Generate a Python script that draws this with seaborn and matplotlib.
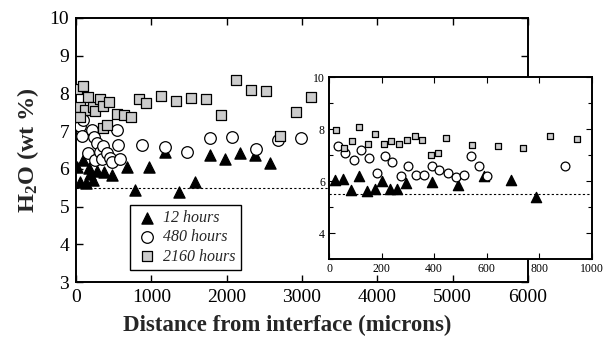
import pandas as pd
import seaborn as sns
import matplotlib.pyplot as plt
from matplotlib.ticker import MultipleLocator

# === DATA ===
# main plot: distance (microns), H2O (wt %)
tri_x = [9, 97, 53, 132, 172, 185, 230, 274, 371, 484, 678, 971, 781, 1179,
         1369, 1576, 1775, 1974, 2172, 2371, 2570]
tri_y = [6.06, 6.23, 5.66, 5.62, 6.01, 5.86, 5.70, 5.93, 5.92, 5.84, 6.06, 6.06,
         5.43, 6.45, 5.39, 5.66, 6.37, 6.25, 6.43, 6.37, 6.16]

circ_x = [9, 31, 53, 75, 97, 163, 208, 238, 274, 252, 318, 340, 362, 406, 450,
          473, 539, 553, 583, 876, 1179, 1479, 1784, 2075, 2393, 2680, 2989]
circ_y = [7.40, 7.16, 7.13, 6.88, 7.29, 6.41, 7.03, 6.84, 6.68, 6.24, 6.45, 6.25,
          6.60, 6.43, 6.28, 6.19, 7.04, 6.64, 6.27, 6.63, 6.58, 6.45, 6.81, 6.84,
          6.52, 6.76, 6.81]

sq_x = [9, 97, 163, 53, 119, 230, 252, 318, 353, 437, 53, 362, 406, 539, 636,
        728, 834, 936, 1135, 1334, 1532, 1722, 1929, 2128, 2327, 2526, 2715,
        2923, 3122]
sq_y = [8.11, 8.20, 7.90, 7.63, 7.56, 7.63, 7.53, 7.84, 7.67, 7.77, 7.38, 7.07,
        7.16, 7.46, 7.42, 7.37, 7.84, 7.74, 7.93, 7.81, 7.87, 7.86, 7.44, 8.36,
        8.09, 8.07, 6.87, 7.50, 7.90]

# inset: first 1000 microns
in_tri_x = [23, 53, 83, 113, 145, 174, 200, 231, 260, 292, 390, 490, 590, 692, 788]
in_tri_y = [6.04, 6.08, 5.65, 6.18, 5.60, 5.70, 6.00, 5.70, 5.70, 5.91, 5.95,
            5.83, 6.18, 6.03, 5.40]

in_circ_x = [32, 60, 93, 120, 152, 181, 213, 240, 273, 301, 331, 360, 392, 420,
             452, 482, 513, 539, 571, 600, 899]
in_circ_y = [7.35, 7.09, 6.81, 7.19, 6.90, 6.32, 6.96, 6.75, 6.18, 6.59, 6.22,
             6.22, 6.56, 6.42, 6.32, 6.14, 6.22, 6.96, 6.56, 6.21, 6.56]

in_sq_x = [28, 56, 87, 115, 148, 176, 208, 236, 267, 295, 327, 355, 387, 415,
           446, 544, 645, 740, 842, 944]
in_sq_y = [7.96, 7.28, 7.53, 8.07, 7.43, 7.82, 7.43, 7.53, 7.43, 7.58, 7.73,
           7.58, 7.00, 7.09, 7.67, 7.38, 7.33, 7.28, 7.73, 7.63]

labels = ["12 hours", "480 hours", "2160 hours"]
baseline = 5.5

sns.set_style("ticks")
plt.rcParams["font.family"] = ["Liberation Serif", "DejaVu Serif"]
plt.rcParams["mathtext.fontset"] = "custom"
plt.rcParams["mathtext.rm"] = "Liberation Serif"
plt.rcParams["mathtext.bf"] = "Liberation Serif:bold"


def draw_series(ax, x, y, kind, size, label=None):
    df = pd.DataFrame({"x": x, "y": y})
    if kind == "tri":
        kw = dict(marker="^", color="black", edgecolor="black")
    elif kind == "circ":
        kw = dict(marker="o", color="white", edgecolor="black")
    else:
        kw = dict(marker="s", color="#cccccc", edgecolor="black")
    sns.scatterplot(data=df, x="x", y="y", ax=ax, s=size, linewidth=0.9,
                    label=label, legend=False, zorder=3, **kw)


def style_axes(ax):
    for sp in ax.spines.values():
        sp.set_visible(True)
        sp.set_linewidth(1.4)
        sp.set_color("black")
    ax.tick_params(which="both", direction="in", top=True, right=True, colors="black")


fig = plt.figure(figsize=(6.05, 3.44), dpi=100)

# === MAIN AXES ===
ax = fig.add_axes([0.1256, 0.180, 0.747, 0.768])
draw_series(ax, tri_x, tri_y, "tri", 65, labels[0])
draw_series(ax, circ_x, circ_y, "circ", 70, labels[1])
draw_series(ax, sq_x, sq_y, "sq", 50, labels[2])
ax.axhline(baseline, color="black", ls=(0, (2, 2)), lw=0.8, zorder=1)
ax.set_xlim(0, 6000)
ax.set_ylim(3, 10)
ax.xaxis.set_major_locator(MultipleLocator(1000))
ax.yaxis.set_major_locator(MultipleLocator(1))
style_axes(ax)
ax.tick_params(which="major", length=5, width=1, labelsize=14, pad=5)
ax.set_xlabel("Distance from interface (microns)", fontsize=16.5, fontweight="bold")
ax.xaxis.set_label_coords(0.467, -0.125)
ax.set_ylabel(r"$\mathbf{H_2O}$ (wt %)", fontsize=17.5, fontweight="bold", labelpad=6)

h, l = ax.get_legend_handles_labels()
leg = ax.legend(h, l, loc="lower left", bbox_to_anchor=(0.12, 0.045),
                frameon=True, fancybox=False, edgecolor="black", framealpha=1,
                prop={"family": "Liberation Serif", "style": "italic", "size": 11.5},
                handletextpad=0.3, borderpad=0.35, labelspacing=0.2,
                handlelength=1.4, borderaxespad=0)
leg.get_frame().set_linewidth(1.0)

# === INSET ===
ins = fig.add_axes([0.544, 0.247, 0.434, 0.529])
ins.set_facecolor("white")
draw_series(ins, in_tri_x, in_tri_y, "tri", 55)
draw_series(ins, in_circ_x, in_circ_y, "circ", 40)
draw_series(ins, in_sq_x, in_sq_y, "sq", 22)
ins.axhline(baseline, color="black", ls=(0, (2, 2)), lw=0.8, zorder=1)
ins.set_xlim(0, 1000)
ins.set_ylim(3, 10)
ins.xaxis.set_major_locator(MultipleLocator(200))
ins.yaxis.set_major_locator(MultipleLocator(2))
ins.yaxis.set_minor_locator(MultipleLocator(1))
style_axes(ins)
ins.tick_params(which="major", length=4, width=0.8, labelsize=8.5, pad=3)
ins.tick_params(which="minor", length=3, width=0.8)
ins.set_yticks([4, 6, 8, 10])
ins.set_xlabel("")
ins.set_ylabel("")

fig.savefig("out.png", dpi=100)
